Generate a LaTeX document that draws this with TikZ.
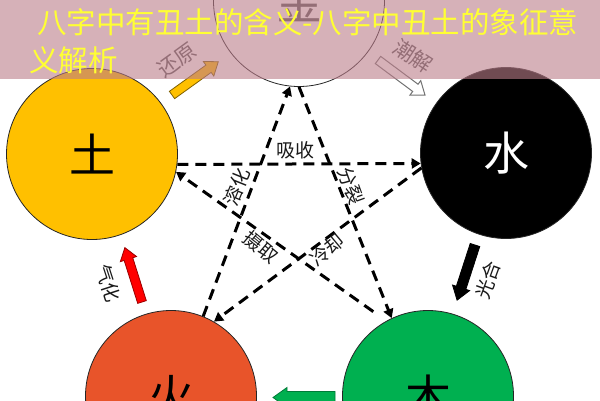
\documentclass[tikz,border=0pt]{standalone}
\usepackage{fontspec}
\newfontfamily\cjk{Noto Sans CJK SC}
\usetikzlibrary{arrows.meta}
\definecolor{tuY}{HTML}{FFC000}
\definecolor{huoR}{HTML}{E8542A}
\definecolor{muG}{HTML}{00B050}
\definecolor{ovPink}{RGB}{188,125,138}
\definecolor{titleY}{RGB}{255,255,51}
\definecolor{lblGray}{HTML}{595959}
\definecolor{tuEdge}{RGB}{127,96,0}
\tikzset{
  elem/.style={circle, draw=black!85, line width=0.8pt, minimum size=171pt, inner sep=0pt,
    font=\cjk\fontsize{46}{46}\selectfont},
  rel/.style={line width=3pt, dash pattern=on 11pt off 7pt, -{Triangle[length=9pt,width=10pt]}},
  lbl/.style={font=\cjk\fontsize{19}{19}\selectfont, text=black!90, inner sep=0pt},
  glbl/.style={font=\cjk\fontsize{21}{21}\selectfont, text=lblGray, inner sep=0pt},
  ttl/.style={font=\cjk\fontsize{29.5}{29.5}\selectfont, text=titleY, inner sep=0pt, anchor=west},
}
% #1 style, #2 tail, #3 angle, #4 length, #5 half shaft, #6 half head, #7 head length
\newcommand{\blkarrow}[7]{%
  \begin{scope}[shift={#2}, rotate=#3]
    \draw[#1] (0,-#5) -- (#4-#7,-#5) -- (#4-#7,-#6) -- (#4,0) -- (#4-#7,#6) -- (#4-#7,#5) -- (0,#5) -- cycle;
  \end{scope}}
\begin{document}
\begin{tikzpicture}[x=1pt,y=-1pt]
\useasboundingbox (0,0) rectangle (600,400);
\clip (0,0) rectangle (600,400);
\fill[white] (0,0) rectangle (600,400);

% elements
\node[elem, fill=white, text=lblGray] (jin) at (299,1) {金};
\node[elem, fill=tuY] (tu) at (92,154) {土};
\node[elem, fill=black, text=white] (shui) at (506,153) {水};
\node[elem, fill=huoR] (huo) at (171,396) {火};
\node[elem, fill=muG] (mu) at (428,396) {木};

% dashed star
\draw[rel] (tu.-7) -- (shui.187);
\draw[rel] (shui.190) -- (huo.60);
\draw[rel] (huo.68) -- (jin.264);
\draw[rel] (jin.270) -- (mu.115);
\draw[rel, shorten <=16pt] (mu.119) -- (tu.-12);

% star labels
\node[lbl] (xishou) at (295,150) {吸收};
\node[lbl, rotate=68] (ronghua) at (237,187) {溶化};
\node[lbl, rotate=-70] (fenlie) at (351,186) {分裂};
\node[lbl, rotate=-40] (sheqv) at (261,247) {摄取};
\node[lbl, rotate=40] (lengque) at (327,250) {冷却};

% block arrows
\blkarrow{fill=tuY, draw=tuEdge, line width=0.8pt}{(172,95)}{35.7}{57}{4.5}{9}{12}
\blkarrow{fill=white, draw=black!55, line width=1pt}{(378,60)}{-36.7}{58.6}{4.5}{9}{12}
\blkarrow{fill=black, draw=black, line width=0.8pt}{(475,245)}{-108}{58}{5}{9}{13}
\blkarrow{fill=red, draw=red!60!black, line width=0.8pt}{(142,302)}{107.5}{57}{4.5}{8.5}{12}
\blkarrow{fill=muG, draw=muG!70!black, line width=0.8pt}{(335,397.5)}{180}{62}{6}{10}{14}

% arrow labels
\node[glbl, rotate=36] (huanyuan) at (177,60) {还原};
\node[glbl, rotate=-33] (chaojie) at (413,56) {潮解};
\node[lbl, rotate=70] (guanghe) at (488,280) {光合};
\node[lbl, rotate=-72] (qihua) at (108,283) {气化};

% banner overlay
\fill[ovPink, opacity=0.6] (0,0) rectangle (600,79);
\node[ttl] (title1) at (37,22) {八字中有丑土的含义-八字中丑土的象征意};
\node[ttl] (title2) at (29,60) {义解析};
\end{tikzpicture}
\end{document}
